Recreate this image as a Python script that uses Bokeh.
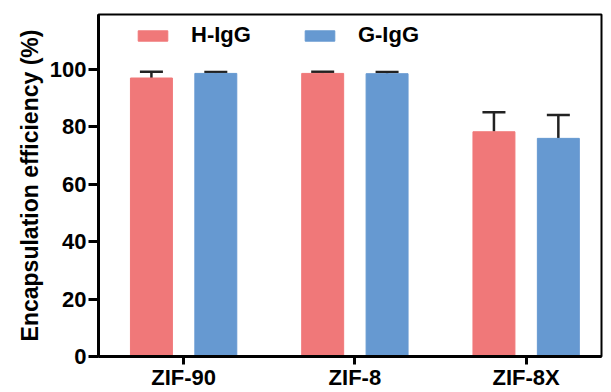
from bokeh.plotting import figure
from bokeh.models import (ColumnDataSource, Whisker, TeeHead, Legend, LegendItem,
                          Range1d, FixedTicker)
from bokeh.embed import file_html
from bokeh.resources import INLINE

categories = ["ZIF-90", "ZIF-8", "ZIF-8X"]
series_names = ["H-IgG", "G-IgG"]
h_values = [96.9, 98.5, 78.2]
h_errors = [2.2, 0.6, 6.8]
g_values = [98.5, 98.4, 75.9]
g_errors = [0.5, 0.6, 8.1]
y_ticks = [0, 20, 40, 60, 80, 100]

RED = "#F07879"
BLUE = "#6699D1"
FONT = "Liberation Sans"

xs = list(range(len(categories)))
offset = 0.188
bar_w = 0.245

p = figure(width=611, height=392, output_backend="svg", toolbar_location=None,
           x_range=Range1d(-0.497, 2.44), y_range=Range1d(0, 119))
p.min_border_left = 98
p.min_border_right = 10
p.min_border_top = 14
p.min_border_bottom = 35
p.background_fill_color = "white"
p.border_fill_color = "white"
p.grid.visible = False
p.outline_line_color = "black"
p.outline_line_width = 2

h_src = ColumnDataSource(dict(x=[x - offset for x in xs], top=h_values,
                              upper=[v + e for v, e in zip(h_values, h_errors)]))
g_src = ColumnDataSource(dict(x=[x + offset for x in xs], top=g_values,
                              upper=[v + e for v, e in zip(g_values, g_errors)]))

rh = p.vbar(x="x", top="top", width=bar_w, source=h_src, fill_color=RED, line_color=RED)
rg = p.vbar(x="x", top="top", width=bar_w, source=g_src, fill_color=BLUE, line_color=BLUE)

for src in (h_src, g_src):
    w = Whisker(base="x", lower="top", upper="upper", source=src,
                upper_head=TeeHead(size=23, line_width=2.5, line_color="#222222"),
                lower_head=None, line_width=2.5, line_color="#222222")
    p.add_layout(w)

# axes
p.xaxis.ticker = FixedTicker(ticks=xs)
p.xaxis.major_label_overrides = {i: c for i, c in enumerate(categories)}
p.yaxis.ticker = FixedTicker(ticks=y_ticks)
for ax in (p.xaxis, p.yaxis):
    ax.axis_line_width = 3
    ax.axis_line_color = "black"
    ax.major_tick_line_width = 3
    ax.major_tick_line_color = "black"
    ax.major_tick_out = 10
    ax.major_tick_in = 0
    ax.minor_tick_line_color = None
    ax.major_label_text_font = FONT
    ax.major_label_text_font_style = "bold"
    ax.major_label_text_font_size = "22px"
    ax.major_label_text_color = "black"
p.xaxis.major_tick_out = 8
p.xaxis.major_label_standoff = 0
p.yaxis.major_label_standoff = 2
p.yaxis.axis_label = "Encapsulation efficiency (%)"
p.yaxis.axis_label_text_font = FONT
p.yaxis.axis_label_text_font_style = "bold"
p.yaxis.axis_label_text_font_size = "23px"
p.yaxis.axis_label_text_color = "black"
p.yaxis.axis_label_standoff = 4

legend = Legend(items=[LegendItem(label=series_names[0], renderers=[rh]),
                       LegendItem(label=series_names[1], renderers=[rg])],
                orientation="horizontal", location=(36, 308),
                border_line_color=None, background_fill_alpha=0,
                glyph_width=37, glyph_height=13, label_standoff=20, spacing=50,
                padding=0, margin=0,
                label_text_font=FONT, label_text_font_style="bold",
                label_text_font_size="22px", label_text_color="black")
p.add_layout(legend)

open("out.html", "w").write(file_html(p, INLINE))
